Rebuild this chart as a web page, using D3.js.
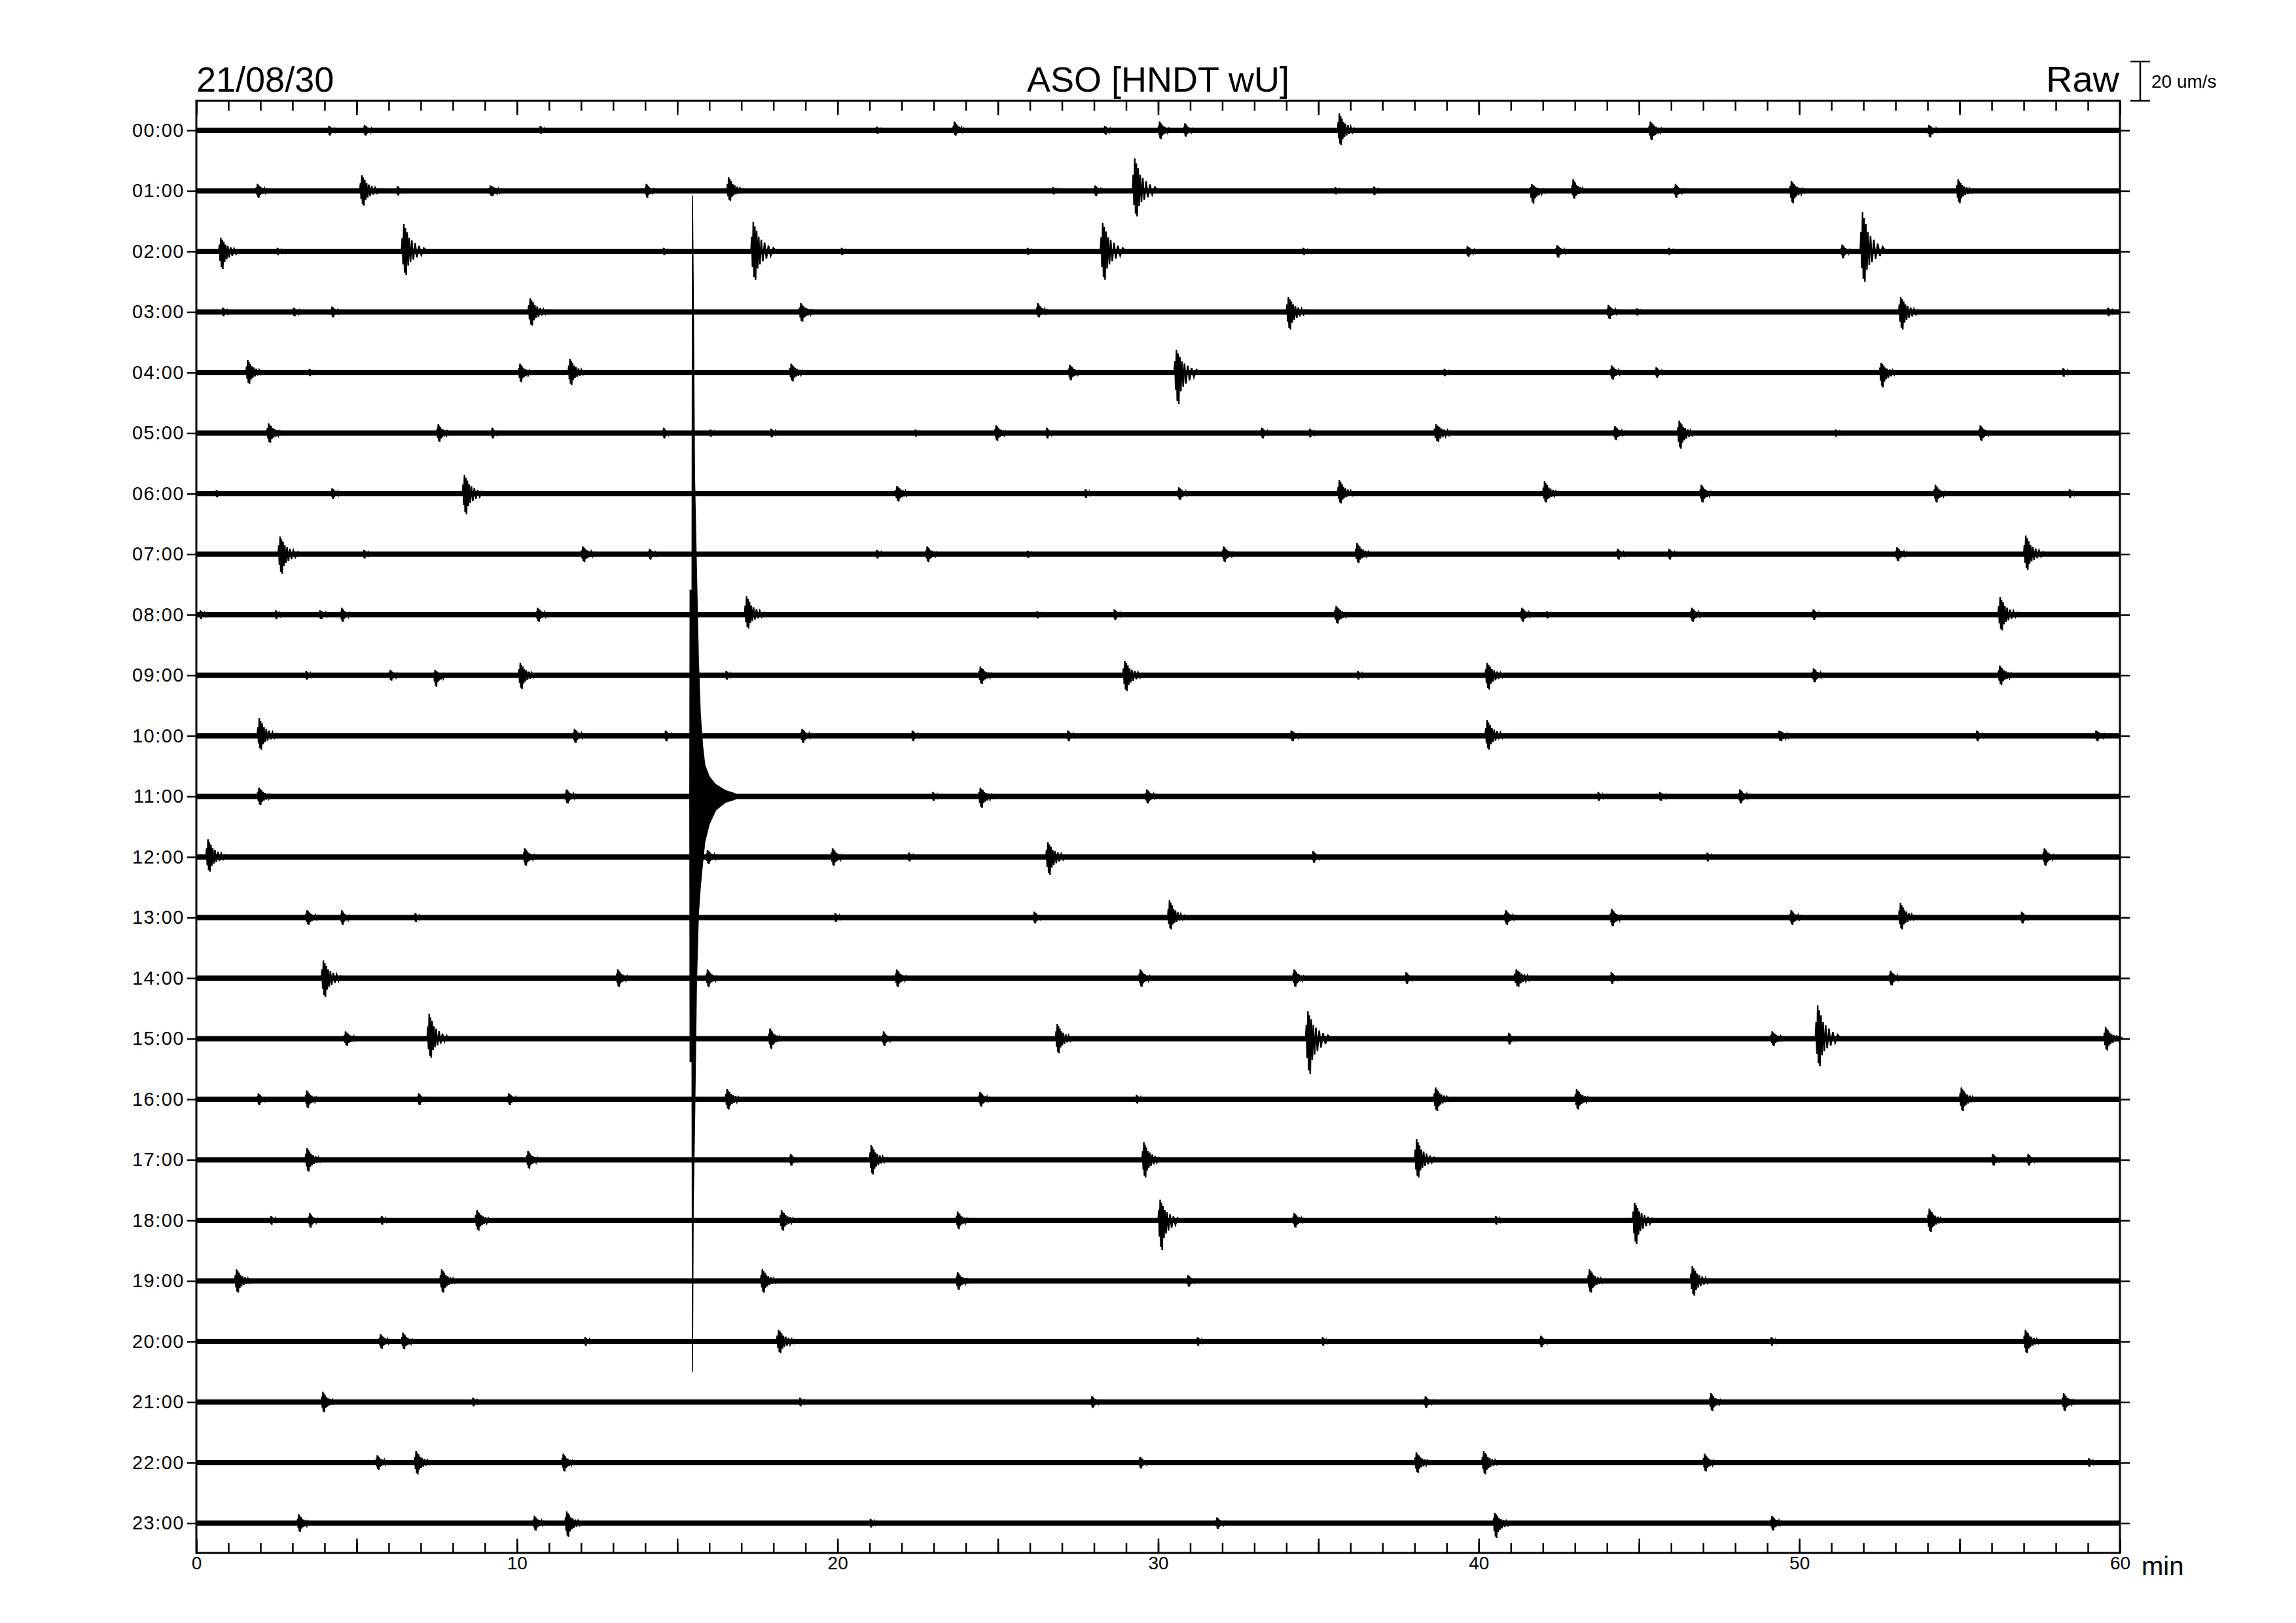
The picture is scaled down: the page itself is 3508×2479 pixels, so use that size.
<!DOCTYPE html>
<html lang="en">
<head>
<meta charset="UTF-8"/>
<title>ASO [HNDT wU]</title>
<script src="https://d3js.org/d3.v7.min.js"></script>
<style>
  body { margin: 0; background: #fff; }
  svg { display: block; }
  text { font-family: "Liberation Sans", Arial, sans-serif; fill: #000; }
  .axis path { display: none; }
  .axis line { stroke: #000; stroke-width: 2.5; }
</style>
</head>
<body>
<svg id="chart" width="3508" height="2479"></svg>
<script>
// tick labels / categories
const hours = d3.range(24).map(h => String(h).padStart(2, "0") + ":00");
const xLabels = [0, 10, 20, 30, 40, 50, 60];
const minorTicks = d3.range(0, 61, 1);
const majorTicks = d3.range(0, 61, 5);

// background noise level per hour row (um/s)
const noise = [1.35,1.35,1.35,1.35,1.35,1.35,1.35,1.35,1.35,1.35,1.35,1.35,
               1.35,1.35,1.35,1.35,1.35,1.35,1.35,1.35,1.35,1.35,1.35,1.35];

// events per row: [minute, up (um/s), down (um/s), duration (min)]
const ev00 = [[4.1,2.2,2.7,0.4],[5.2,2.7,2.7,0.5],[10.7,2.2,1.8,0.3],[21.2,1.8,1.8,0.3],[23.6,4.5,2.7,0.5],[28.3,2.2,2.2,0.4],[30.0,4.5,4.5,0.5],[30.8,3.6,3.2,0.4],[35.6,8.6,7.6,0.6],[45.3,4.5,5,0.6],[54.0,2.7,3.6,0.5]];
const ev01 = [[1.86,3.6,3.6,0.5],[5.1,8,7.6,0.7],[6.25,2.4,2.4,0.3],[9.1,2.7,2.7,0.8],[14.0,3.6,3.6,0.4],[16.55,7,5.1,0.6],[26.7,1.8,1.8,0.3],[28.0,2.7,2.7,0.4],[29.2,16.5,13,0.8],[35.5,1.8,1.8,0.3],[36.7,2.2,2.2,0.3],[41.6,3.5,6.5,0.6],[42.9,6,4,0.5],[46.1,3.6,3.6,0.4],[49.7,5.1,6.3,0.6],[54.9,5.8,6.3,0.6]];
const ev02 = [[0.7,7,9,0.7],[2.5,1.8,1.8,0.3],[6.4,14,12,0.8],[14.55,1.8,1.8,0.3],[17.3,15,14.5,0.8],[20.1,1.8,1.8,0.3],[25.9,1.8,1.8,0.3],[28.2,14.5,14.5,0.8],[34.5,1.8,1.8,0.3],[39.6,2.7,2.7,0.5],[42.4,3.2,3.2,0.5],[45.9,1.8,1.8,0.3],[51.3,3.5,3.5,0.4],[51.9,20,15.5,0.8]];
const ev03 = [[0.8,2.2,2.2,0.3],[3.0,2.2,2.2,0.4],[4.2,2.7,2.7,0.4],[10.35,7,7,0.7],[18.8,4.5,5,0.6],[26.2,4.5,2.7,0.5],[34.0,7.6,9,0.7],[44.0,3.6,3.6,0.5],[44.9,1.8,1.8,0.3],[53.1,7.6,9,0.7],[59.6,2.2,2.2,0.3]];
const ev04 = [[1.55,6.3,5.8,0.6],[3.5,1.8,1.8,0.3],[10.05,4.5,5,0.5],[11.6,7,6.3,0.6],[18.5,4.5,4.5,0.6],[27.2,4,4,0.5],[30.5,11.5,16,0.8],[38.9,1.8,1.8,0.3],[44.1,3.6,3.6,0.5],[45.5,2.7,2.7,0.4],[52.5,5,7.6,0.6],[58.2,2.2,2.2,0.3]];
const ev05 = [[2.2,5,5,0.6],[7.5,4.5,4.5,0.5],[9.2,2.7,2.7,0.3],[14.55,2.7,2.7,0.3],[16.0,1.8,1.8,0.3],[17.9,2.2,2.2,0.3],[22.4,1.8,1.8,0.3],[24.9,4,4,0.5],[26.5,2.7,2.7,0.3],[33.2,2.7,2.7,0.4],[34.7,2.2,2.2,0.3],[38.6,4.5,4.5,0.8],[44.2,3.6,3.6,0.5],[46.2,6.3,8,0.6],[51.1,1.8,1.8,0.3],[55.6,4,4,0.5]];
const ev06 = [[0.6,1.8,1.8,0.3],[4.2,2.7,2.7,0.4],[8.3,9.5,10.5,0.7],[21.8,4,4,0.6],[27.7,2.2,2.2,0.3],[30.6,3.2,3.2,0.5],[35.6,7,5,0.6],[42.0,6.3,4.5,0.6],[46.9,4.5,4.5,0.5],[54.2,4.5,4.5,0.5],[58.4,2.2,2.2,0.3]];
const ev07 = [[2.55,9,10,0.7],[5.2,2.2,2.2,0.3],[12.0,4,4,0.6],[14.1,2.7,2.7,0.4],[21.2,2.2,2.2,0.3],[22.75,4,4,0.5],[25.9,1.8,1.8,0.3],[32.0,4,4,0.5],[36.15,5.8,4.5,0.6],[44.3,2.7,2.7,0.4],[45.9,2.7,2.7,0.4],[53.0,3.6,3.6,0.5],[57.0,9.5,8,0.7]];
const ev08 = [[0.1,2.2,2.2,0.3],[2.45,2.2,2.2,0.3],[3.8,2.2,2.2,0.6],[4.5,3.6,3.6,0.4],[10.6,3.6,3.6,0.5],[17.1,9.5,7,0.7],[26.2,1.8,1.8,0.3],[28.6,2.7,2.7,0.4],[35.5,4.5,4.5,0.6],[41.3,3.6,3.6,0.5],[42.1,1.8,1.8,0.3],[46.6,3.6,3.6,0.5],[50.4,2.7,2.7,0.4],[56.2,9,8,0.7]];
const ev09 = [[3.4,2.2,2.2,0.3],[6.0,2.7,2.7,0.5],[7.4,2.7,5.8,0.5],[10.05,6.3,7,0.6],[16.5,2.2,2.2,0.3],[24.4,4.5,4.5,0.6],[28.9,7.2,8,0.7],[36.2,2.2,2.2,0.3],[40.2,6.3,7.2,0.7],[50.4,3.6,3.6,0.5],[56.2,5,5,0.6]];
const ev10 = [[1.9,9,7,0.7],[11.75,3.6,3.6,0.5],[14.6,2.7,2.7,0.4],[18.85,3.6,3.6,0.5],[22.3,2.7,2.7,0.4],[27.15,2.7,2.7,0.4],[34.1,2.7,2.7,0.6],[40.2,8,7,0.7],[49.3,2.7,2.7,0.8],[55.5,2.7,2.7,0.4],[59.2,2.7,2.7,0.6]];
const ev11 = [[1.9,4.5,4.5,0.6],[11.5,3.6,3.6,0.5],[22.95,2.2,2.2,0.3],[24.4,4.5,5.8,0.6],[29.6,3.6,3.6,0.5],[43.7,2.2,2.2,0.3],[45.6,2.2,2.2,0.5],[48.1,3.6,3.6,0.5]];
const ev12 = [[0.3,9,7.5,0.7],[10.2,4.5,4.5,0.5],[15.9,3.6,3.6,0.5],[19.8,4.5,4.5,0.5],[22.2,2.2,2.2,0.3],[26.5,7.5,9,0.7],[34.8,3,3,0.4],[47.1,2.2,2.2,0.3],[57.6,4.5,4.5,0.5]];
const ev13 = [[3.4,3.7,3.7,0.6],[4.5,3.7,3.7,0.4],[6.8,2.2,2.2,0.3],[19.9,2.2,2.2,0.3],[26.1,3,3,0.4],[30.3,9,6,0.6],[40.8,3.7,3.7,0.5],[44.1,4.5,4.5,0.5],[49.7,3.7,3.7,0.5],[53.1,7.5,6,0.6],[56.9,3,3,0.4]];
const ev14 = [[3.9,9,9.7,0.7],[13.1,4.5,4.5,0.5],[15.9,4.5,4.5,0.5],[21.8,4.5,4.5,0.5],[29.4,4.5,4.5,0.5],[34.2,4.5,4.5,0.5],[37.7,3,3,0.4],[41.1,4.5,4.5,0.8],[44.1,3,3,0.4],[52.8,3.7,3.7,0.5]];
const ev15 = [[4.6,3.7,3.7,0.6],[7.2,12.7,9.7,0.7],[17.85,5.2,5.2,0.5],[21.4,3.7,3.7,0.4],[26.8,7.5,7.5,0.6],[34.6,14,18,0.8],[40.9,3,3,0.4],[49.1,3.7,3.7,0.6],[50.5,17,14,0.8],[59.5,6,6,0.6]];
const ev16 = [[1.9,3,3,0.4],[3.4,4.5,4.5,0.5],[6.9,3,3,0.4],[9.7,3,3,0.5],[16.5,5.2,5.2,0.6],[24.4,3.7,3.7,0.5],[29.3,2.2,2.2,0.3],[38.6,6,6,0.6],[43.0,5.2,5.2,0.6],[55.0,6,6,0.6]];
const ev17 = [[3.4,6,6,0.6],[10.3,4.5,4.5,0.5],[18.5,3,3,0.4],[21.0,7.5,7.5,0.6],[29.5,9,9,0.6],[38.0,10.5,9,0.7],[56.0,3,3,0.4],[57.1,3,3,0.4]];
const ev18 = [[2.3,2.2,2.2,0.3],[3.5,3.7,3.7,0.4],[5.75,2.2,2.2,0.3],[8.7,5.2,5.2,0.6],[18.2,5.2,5.2,0.6],[23.7,4.5,4.5,0.5],[30.0,10.5,15,0.7],[34.2,3.7,3.7,0.5],[40.5,2.2,2.2,0.3],[44.8,9,12,0.7],[54.0,6,6,0.6]];
const ev19 = [[1.2,6,6,0.6],[7.6,6,6,0.6],[17.6,6,6,0.6],[23.7,4.5,4.5,0.5],[30.9,3,3,0.4],[43.4,6,6,0.6],[46.6,7.5,7.5,0.7]];
const ev20 = [[5.7,3.7,3.7,0.5],[6.4,4.5,4,0.5],[12.1,2.2,2.2,0.3],[18.1,6,6,0.7],[31.2,2.2,2.2,0.3],[35.1,2.2,2.2,0.3],[41.9,3,3,0.4],[49.1,2.2,2.2,0.3],[57.0,6,6,0.6]];
const ev21 = [[3.9,5.2,5.2,0.5],[8.6,2.2,2.2,0.3],[18.8,2.2,2.2,0.3],[27.9,3,3,0.4],[38.3,3,3,0.4],[47.2,4.5,4.5,0.5],[58.2,4.5,4.5,0.5]];
const ev22 = [[5.6,3.7,3.7,0.5],[6.8,6,6,0.6],[11.4,4.5,4.5,0.5],[29.4,3,3,0.4],[38.0,5.2,5.2,0.6],[40.1,6,6,0.6],[47.0,4.5,4.5,0.5],[59.0,2.2,2.2,0.3]];
const ev23 = [[3.15,4.5,4.5,0.5],[10.5,3.7,3.7,0.5],[11.5,6,7,0.6],[21.0,2.2,2.2,0.3],[31.8,3,3,0.4],[40.45,5.2,7.5,0.6],[49.1,3.7,3.7,0.5]];
const events = [ev00,ev01,ev02,ev03,ev04,ev05,ev06,ev07,ev08,ev09,ev10,ev11,
                ev12,ev13,ev14,ev15,ev16,ev17,ev18,ev19,ev20,ev21,ev22,ev23];

// large earthquake recorded on the 11:00 row: envelope (um/s)
const quakeRow = 11;
const quakeMin  = [15.39, 15.40, 15.46, 15.475, 15.50, 15.54, 15.60, 15.66, 15.72, 15.79, 15.86, 16.0, 16.2, 16.5, 16.8];
const quakeUp   = [1.35,  105,   105,   306,    259,   163,   115,   70,    42,    26,    16,    10,   6,    3,    1.5];
const quakeDown = [1.35,  135,   135,   293,    206,   168,   95,    60,    46,    34,    23,    14,   7,    3,    1.5];

// scale bar
const barValue = 20;

// event glyph: a fixed wiggle profile (fraction of duration, fraction of up/down peak)
const glyph = [[0,0],[0.03,0.5],[0.06,-0.55],[0.09,1],[0.12,-0.9],[0.15,0.85],[0.18,-1],
               [0.22,0.7],[0.26,-0.6],[0.3,0.5],[0.35,-0.45],[0.4,0.4],[0.46,-0.35],
               [0.53,0.3],[0.6,-0.25],[0.68,0.2],[0.77,-0.15],[0.87,0.12],[1,0]];

const svg = d3.select("#chart");
const plotL = 300, plotR = 3239, plotT = 154, plotB = 2372;

const x = d3.scaleLinear().domain([0, 60]).range([plotL, plotR]);
const y = d3.scaleLinear().domain([0, 23]).range([199, 2326.5]);
const amp = d3.scaleLinear().domain([0, 20]).range([0, 60]);

const line = d3.line().x(d => d[0]).y(d => d[1]);

// traces
const traces = svg.append("g");
hours.forEach((h, i) => {
  const yc = y(i), n = noise[i];
  traces.append("rect")
    .attr("x", x(0)).attr("width", x(60) - x(0))
    .attr("y", yc - amp(n)).attr("height", 2 * amp(n))
    .attr("fill", "#000");

  events[i].forEach(([m, up, down, dur]) => {
    const pts = glyph.map(([f, v]) => [x(m + f * dur), v >= 0 ? yc - amp(up) * v : yc - amp(down) * v]);
    traces.append("path")
      .attr("d", line(pts))
      .attr("fill", "none").attr("stroke", "#000").attr("stroke-width", 2.4)
      .attr("stroke-linejoin", "miter");
  });
});

// earthquake
{
  const yc = y(quakeRow);
  const topPts = quakeMin.map((m, k) => [x(m), yc - amp(quakeUp[k])]);
  const botPts = quakeMin.map((m, k) => [x(m), yc + amp(quakeDown[k])]);
  traces.append("path")
    .attr("d", line(topPts.concat(botPts.reverse())) + "Z")
    .attr("fill", "#000").attr("stroke", "#000").attr("stroke-width", 1.5);
}

// axes
svg.append("g").attr("class", "axis").attr("transform", `translate(0,${plotT})`)
  .call(d3.axisTop(x).tickValues(minorTicks).tickSize(-15).tickFormat(""));
svg.append("g").attr("class", "axis").attr("transform", `translate(0,${plotT})`)
  .call(d3.axisTop(x).tickValues(majorTicks).tickSize(-22).tickFormat(""));
svg.append("g").attr("class", "axis").attr("transform", `translate(0,${plotB})`)
  .call(d3.axisBottom(x).tickValues(minorTicks).tickSize(-15).tickFormat(""));
svg.append("g").attr("class", "axis").attr("transform", `translate(0,${plotB})`)
  .call(d3.axisBottom(x).tickValues(majorTicks).tickSize(-22).tickFormat(""));
const xl = svg.append("g").attr("class", "axis").attr("transform", `translate(0,${plotB})`)
  .call(d3.axisBottom(x).tickValues(xLabels).tickSize(0).tickPadding(5).tickFormat(d3.format("d")));
xl.selectAll("text").style("font-size", "28px").style("font-family", "Liberation Sans");

const yl = svg.append("g").attr("class", "axis").attr("transform", `translate(${plotL},0)`)
  .call(d3.axisLeft(y).tickValues(d3.range(24)).tickSize(14).tickPadding(4).tickFormat(i => hours[i]));
yl.selectAll("text").style("font-size", "29px").style("letter-spacing", "1.5px")
  .style("font-family", "Liberation Sans");
svg.append("g").attr("class", "axis").attr("transform", `translate(${plotR},0)`)
  .call(d3.axisRight(y).tickValues(d3.range(24)).tickSize(15).tickFormat(""));

// frame
svg.append("rect").attr("x", plotL).attr("y", plotT)
  .attr("width", plotR - plotL).attr("height", plotB - plotT)
  .attr("fill", "none").attr("stroke", "#000").attr("stroke-width", 3);

// titles
svg.append("text").attr("x", plotL).attr("y", 140).style("font-size", "54px").text("21/08/30");
svg.append("text").attr("x", (plotL + plotR) / 2).attr("y", 140).attr("text-anchor", "middle")
  .style("font-size", "54px").text("ASO [HNDT wU]");
svg.append("text").attr("x", plotR - 1).attr("y", 140).attr("text-anchor", "end")
  .style("font-size", "56px").text("Raw");
svg.append("text").attr("x", plotR + 33).attr("y", 2406).style("font-size", "40px").text("min");

// amplitude scale bar
const bx = 3270, bTop = plotT - amp(barValue);
const bar = svg.append("g").attr("stroke", "#000").attr("stroke-width", 2.5);
bar.append("line").attr("x1", bx).attr("x2", bx).attr("y1", bTop).attr("y2", plotT);
bar.append("line").attr("x1", bx - 15).attr("x2", bx + 15).attr("y1", bTop).attr("y2", bTop);
bar.append("line").attr("x1", bx - 15).attr("x2", bx + 15).attr("y1", plotT).attr("y2", plotT);
svg.append("text").attr("x", bx + 17).attr("y", (bTop + plotT) / 2 + 10)
  .style("font-size", "28px").text(barValue + " um/s");
</script>
</body>
</html>
